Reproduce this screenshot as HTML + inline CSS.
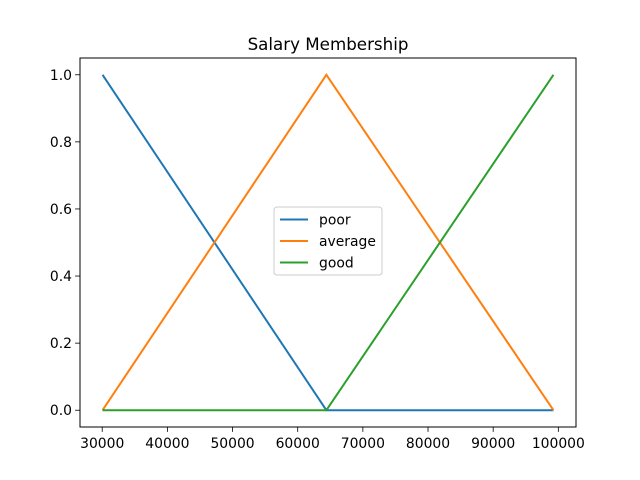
<!DOCTYPE html>
<html><head><meta charset="utf-8"><style>body{margin:0;background:#fff}svg{display:block;font-family:"DejaVu Sans","Liberation Sans",sans-serif}</style></head>
<body>
<svg id="c" width="640" height="480"></svg>
<script>
const xPoints=[30050,64400,99250];
const poorVals=[1,0,0];
const averageVals=[0,1,0];
const goodVals=[0,0,1];
const seriesNames=["poor","average","good"];
const colors=["#1f77b4","#ff7f0e","#2ca02c"];
const xTicks=[30000,40000,50000,60000,70000,80000,90000,100000];
const yTicks=[0,0.2,0.4,0.6,0.8,1.0];
const L=80,R=576,T=58,B=427;
const xmin=xPoints[0],xmax=xPoints[xPoints.length-1],xr=xmax-xmin;
const X=v=>L+(v-(xmin-0.05*xr))/(1.1*xr)*(R-L);
const Y=v=>B-(v+0.05)/1.1*(B-T);
const s=document.getElementById('c');const ns='http://www.w3.org/2000/svg';
function mk(t,a,txt){const e=document.createElementNS(ns,t);for(const k in a)e.setAttribute(k,a[k]);if(txt!=null)e.textContent=txt;s.appendChild(e);return e;}
let e=mk('text',{x:328,y:50,'text-anchor':'middle','font-size':16.7},'Salary Membership');


xTicks.forEach(t=>{const x=X(t);
 let l=mk('line',{x1:x,x2:x,y1:B,y2:B+4.9,stroke:'#000','stroke-width':0.8});
 
 
 let tx=mk('text',{x:x,y:B+21,'text-anchor':'middle','font-size':13.9},String(t));
 
 });
yTicks.forEach(t=>{const y=Y(t);
 let l=mk('line',{x1:L-4.9,x2:L,y1:y,y2:y,stroke:'#000','stroke-width':0.8});
 
 
 let tx=mk('text',{x:L-8,y:y+5,'text-anchor':'end','font-size':13.9},t.toFixed(1));
 
 });
[poorVals,averageVals,goodVals].forEach((vals,i)=>{
 const p=mk('polyline',{points:vals.map((v,j)=>X(xPoints[j])+','+Y(v)).join(' '),fill:'none',stroke:colors[i],'stroke-width':2});
 
 });
let ax=mk('rect',{x:L,y:T,width:R-L,height:B-T,fill:'none',stroke:'#000','stroke-width':1});


let lg=mk('rect',{x:274,y:207,width:108,height:68,fill:'#fff',stroke:'#ccc',rx:3});


seriesNames.forEach((n,i)=>{const y=219.5+i*21.5;
 let l=mk('line',{x1:280,x2:308,y1:y,y2:y,stroke:colors[i],'stroke-width':2});
 
 
 let t=mk('text',{x:319,y:y+5,'font-size':13.9},n);
 
 });
</script>
</body></html>
